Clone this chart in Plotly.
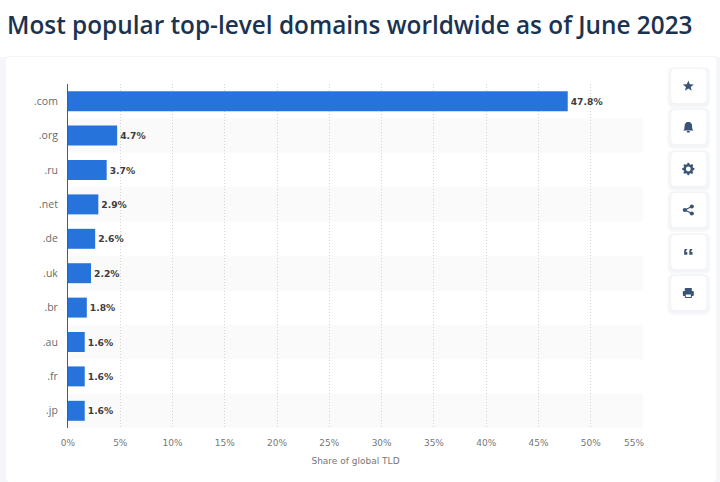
import math

import plotly.graph_objects as go

W = 720
H = 482

domains = ['.com', '.org', '.ru', '.net', '.de', '.uk', '.br', '.au', '.fr', '.jp']
shares = [47.8, 4.7, 3.7, 2.9, 2.6, 2.2, 1.8, 1.6, 1.6, 1.6]
x_ticks = [0, 5, 10, 15, 20, 25, 30, 35, 40, 45, 50, 55]
title = 'Most popular top-level domains worldwide as of June 2023'
x_title = 'Share of global TLD'

ICON = '#3a5478'
TICK_FONT = dict(family='DejaVu Sans', size=9, color='#777777')
# plot area edges in pixels
LEFT, RIGHT, TOP, BOTTOM = 68, 642.7, 84, 428
# button centres for the side toolbar, in pixels
button_y = [86, 127, 169, 210, 252, 293]


# paper coords run over the plot area, so these go outside 0-1 for the page
def px(x):
    return (x - LEFT) / (RIGHT - LEFT)


def py(y):
    return (BOTTOM - y) / (BOTTOM - TOP)


def rrect(x0, y0, x1, y1, r):
    # rounded rectangle path in paper coords
    return (f'M{px(x0 + r)},{py(y0)} L{px(x1 - r)},{py(y0)} Q{px(x1)},{py(y0)} {px(x1)},{py(y0 + r)} '
            f'L{px(x1)},{py(y1 - r)} Q{px(x1)},{py(y1)} {px(x1 - r)},{py(y1)} '
            f'L{px(x0 + r)},{py(y1)} Q{px(x0)},{py(y1)} {px(x0)},{py(y1 - r)} '
            f'L{px(x0)},{py(y0 + r)} Q{px(x0)},{py(y0)} {px(x0 + r)},{py(y0)} Z')


def paper_path(path, color, opacity=1):
    return dict(type='path', xref='paper', yref='paper', path=path, fillcolor=color,
                opacity=opacity, line=dict(width=0), layer='below')


def poly(cx, cy, pts):
    d = 'M' + ' L'.join(f'{px(cx + a)},{py(cy + b)}' for a, b in pts) + ' Z'
    return d


shapes = []

# page background and card, with a soft edge
shapes.append(paper_path(rrect(0, 57, 720, 482, 0), '#f4f6f9'))
shapes.append(paper_path(rrect(5, 56, 718, 482, 5), '#f3f5f8'))
shapes.append(paper_path(rrect(6, 57, 716, 482, 4), '#ffffff'))

# alternate row bands
for i in range(1, len(domains), 2):
    shapes.append(dict(type='rect', xref='x', yref='y', x0=0, x1=x_ticks[-1], y0=i - 0.5, y1=i + 0.5,
                       fillcolor='#fafafa', line=dict(width=0), layer='below'))

# toolbar buttons
for y in button_y:
    shapes.append(paper_path(rrect(667, y - 19, 710, y + 22, 7), '#f5f6f9', 0.8))
    shapes.append(paper_path(rrect(669, y - 18, 708, y + 20, 5), '#f1f3f6', 0.8))
    shapes.append(paper_path(rrect(671, y - 17, 706, y + 17, 4), '#ffffff'))

cx = 688
# star
shapes.append(paper_path(poly(cx, button_y[0], [(0, -5.5), (1.5, -1.8), (5.5, -1.6), (2.4, 0.9), (3.4, 4.8),
                                                (0, 2.6), (-3.4, 4.8), (-2.4, 0.9), (-5.5, -1.6), (-1.5, -1.8)]), ICON))
# bell
shapes.append(paper_path(poly(cx, button_y[1], [(-1.5, -5), (1.5, -5), (3.5, -3), (4, 2), (5, 3.5), (-5, 3.5),
                                                (-4, 2), (-3.5, -3)]), ICON))
shapes.append(paper_path(rrect(cx - 1.5, button_y[1] + 4, cx + 1.5, button_y[1] + 5.5, 0.5), ICON))
# gear, ring with small teeth
for k in range(8):
    a = k * math.pi / 4
    tx, ty = cx + 5 * math.cos(a), button_y[2] + 5 * math.sin(a)
    shapes.append(dict(type='circle', xref='paper', yref='paper', x0=px(tx - 1.2), x1=px(tx + 1.2),
                       y0=py(ty + 1.2), y1=py(ty - 1.2), fillcolor=ICON, line=dict(width=0), layer='below'))
shapes.append(dict(type='circle', xref='paper', yref='paper', x0=px(cx - 3.6), x1=px(cx + 3.6),
                   y0=py(button_y[2] + 3.6), y1=py(button_y[2] - 3.6), fillcolor='#ffffff',
                   line=dict(color=ICON, width=2.4), layer='below'))
# share
for dx, dy in [(3.5, -3.5), (-3.5, 0), (3.5, 3.5)]:
    shapes.append(dict(type='circle', xref='paper', yref='paper', x0=px(cx + dx - 2.1), x1=px(cx + dx + 2.1),
                       y0=py(button_y[3] + dy + 2.1), y1=py(button_y[3] + dy - 2.1), fillcolor=ICON,
                       line=dict(width=0), layer='below'))
shapes.append(dict(type='path', xref='paper', yref='paper', layer='below', line=dict(color=ICON, width=1.2),
                   path=f'M{px(cx + 3.5)},{py(button_y[3] - 3.5)} L{px(cx - 3.5)},{py(button_y[3])} '
                        f'L{px(cx + 3.5)},{py(button_y[3] + 3.5)}'))
# quotes
for dx in (-4.2, 1):
    shapes.append(paper_path(poly(cx + dx, button_y[4], [(0.5, -3), (3.2, -3), (1.5, 0), (3.2, 0), (3.2, 2.8),
                                                         (0, 2.8), (0, -0.5)]), ICON))
# printer
shapes.append(paper_path(rrect(cx - 3.5, button_y[5] - 5, cx + 3.5, button_y[5] - 1, 0.5), ICON))
shapes.append(paper_path(rrect(cx - 5.5, button_y[5] - 2, cx + 5.5, button_y[5] + 3, 1), ICON))
shapes.append(paper_path(rrect(cx - 3.5, button_y[5] + 0.5, cx + 3.5, button_y[5] + 5, 0.3), ICON))
shapes.append(paper_path(rrect(cx - 2.5, button_y[5] + 1.5, cx + 2.5, button_y[5] + 4, 0), '#ffffff'))

fig = go.Figure()
fig.add_trace(go.Bar(
    y=domains,
    x=shares,
    orientation='h',
    marker=dict(color='#2673dc', line=dict(width=0)),
    text=[f'{s}%' for s in shares],
    textposition='outside',
    cliponaxis=False,
    textfont=dict(family='DejaVu Sans', size=9.2, color='#3c3c3c', weight='bold'),
))

# the last tick label sits inside the plot edge, so it is right aligned by hand
fig.add_annotation(x=x_ticks[-1], y=0, xref='x', yref='paper', xanchor='right', yanchor='top',
                   text=f'{x_ticks[-1]}%', showarrow=False, font=TICK_FONT, xshift=1, yshift=-10,
                   borderpad=0, borderwidth=0)

fig.update_layout(
    width=W,
    height=H,
    autosize=False,
    showlegend=False,
    paper_bgcolor='#ffffff',
    plot_bgcolor='rgba(0,0,0,0)',
    bargap=0.42,
    margin=dict(l=LEFT, r=W - RIGHT, t=TOP, b=H - BOTTOM),
    shapes=shapes,
    title=dict(text=title, x=7 / W, xanchor='left', y=1 - 25 / H, yanchor='middle',
               font=dict(family='Open Sans', size=24.35, color='#1b3350', weight=600)),
    xaxis=dict(
        range=[0, x_ticks[-1]],
        tickvals=x_ticks,
        ticktext=[f'{t}%' for t in x_ticks[:-1]] + [' '],
        showgrid=True,
        gridcolor='#d4d4d4',
        griddash='1px,2px',
        gridwidth=1,
        zeroline=False,
        ticks='outside',
        ticklen=6,
        tickcolor='rgba(0,0,0,0)',
        tickfont=TICK_FONT,
        title=dict(text=x_title, standoff=10, font=TICK_FONT),
    ),
    yaxis=dict(
        autorange='reversed',
        showline=True,
        linecolor='#5a5a5a',
        linewidth=1,
        showgrid=False,
        ticks='outside',
        ticklen=7,
        tickcolor='rgba(0,0,0,0)',
        tickfont=dict(family='Open Sans', size=10.5, color='#6a6a6a'),
    ),
)

fig.write_html('out.html', config={'displayModeBar': False}, post_script="document.body.style.margin='0';")
